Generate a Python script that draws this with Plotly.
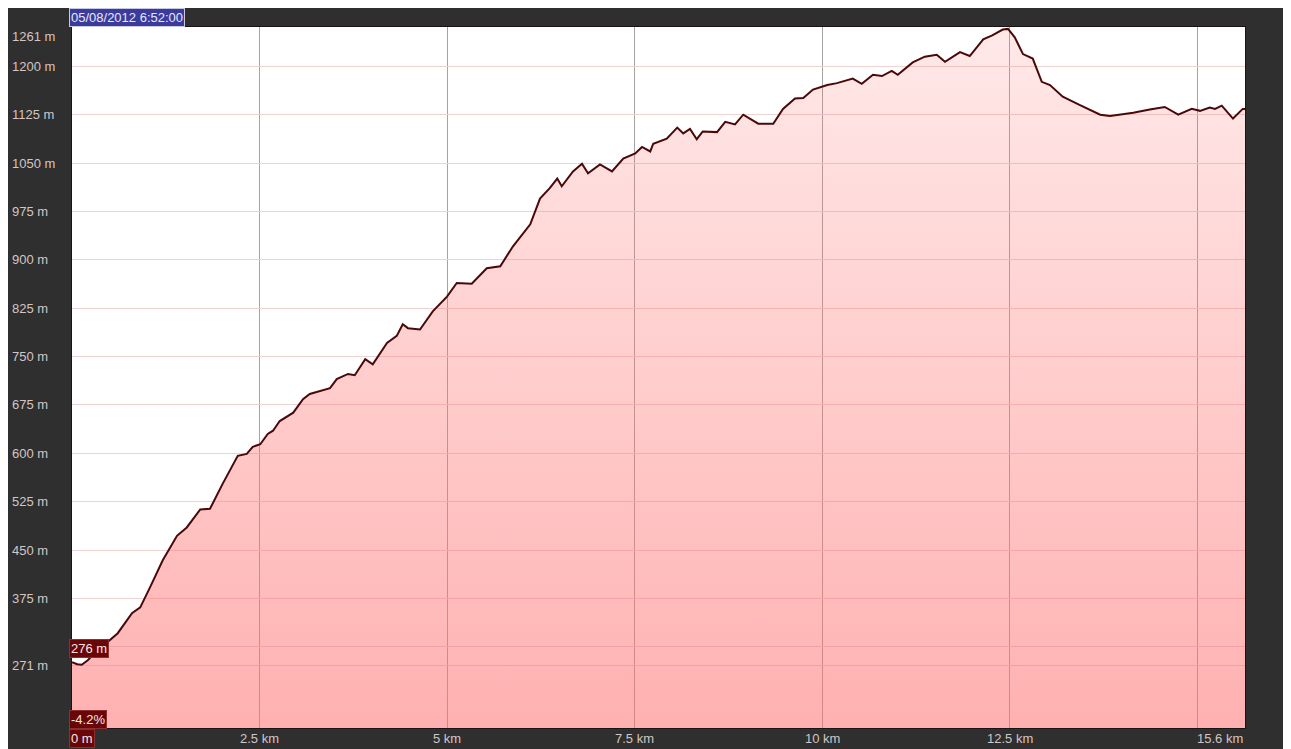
import plotly.graph_objects as go

# ---- data ----
distance_km = [0.00, 0.07, 0.13, 0.21, 0.32, 0.43, 0.51, 0.61, 0.80, 0.91, 1.04, 1.21, 1.40, 1.53,
               1.71, 1.84, 2.01, 2.21, 2.33, 2.41, 2.51, 2.61, 2.68, 2.77, 2.95, 3.08, 3.17, 3.31,
               3.44, 3.53, 3.68, 3.77, 3.91, 4.01, 4.20, 4.33, 4.41, 4.48, 4.64, 4.81, 5.00, 5.13,
               5.33, 5.53, 5.71, 5.88, 6.11, 6.24, 6.37, 6.47, 6.53, 6.68, 6.80, 6.88, 7.04, 7.20,
               7.35, 7.51, 7.60, 7.71, 7.75, 7.93, 8.07, 8.15, 8.24, 8.33, 8.41, 8.60, 8.71, 8.84,
               8.95, 9.15, 9.35, 9.48, 9.64, 9.75, 9.88, 10.07, 10.20, 10.41, 10.53, 10.68, 10.80,
               10.93, 11.01, 11.21, 11.37, 11.53, 11.64, 11.84, 11.97, 12.15, 12.27, 12.41, 12.48,
               12.57, 12.68, 12.81, 12.93, 13.04, 13.21, 13.44, 13.71, 13.84, 14.15, 14.37, 14.57,
               14.75, 14.93, 15.04, 15.17, 15.24, 15.33, 15.48, 15.61, 15.64]
elevation_m = [276, 273, 272, 279, 292, 303, 310, 321, 352, 361, 392, 434, 472, 485,
               513, 514, 553, 596, 599, 610, 614, 630, 635, 650, 663, 684, 692, 697,
               701, 715, 723, 721, 746, 738, 771, 782, 800, 794, 792, 820, 843, 864,
               863, 887, 890, 921, 955, 995, 1011, 1026, 1014, 1037, 1049, 1034, 1048, 1037,
               1057, 1065, 1075, 1068, 1080, 1088, 1105, 1096, 1103, 1087, 1099, 1098, 1114, 1110,
               1125, 1111, 1111, 1134, 1150, 1151, 1164, 1171, 1174, 1181, 1173, 1187, 1185,
               1193, 1187, 1206, 1215, 1218, 1207, 1222, 1216, 1242, 1248, 1257, 1258,
               1245, 1219, 1212, 1176, 1171, 1153, 1140, 1125, 1123, 1128, 1133, 1137,
               1125, 1134, 1131, 1136, 1134, 1139, 1119, 1134, 1134]

y_tick_values = [271, 375, 450, 525, 600, 675, 750, 825, 900, 975, 1050, 1125, 1200, 1261]
y_grid_values = [271, 300, 375, 450, 525, 600, 675, 750, 825, 900, 975, 1050, 1125, 1200]
x_tick_values = [2.5, 5, 7.5, 10, 12.5]
x_tick_labels = ["2.5 km", "5 km", "7.5 km", "10 km", "12.5 km"]
x_grid_values = [2.5, 5, 7.5, 10, 12.5, 15]
total_label = "15.6 km"
title_text = "05/08/2012 6:52:00"
cursor_elev = "276 m"
cursor_grade = "-4.2%"
cursor_dist = "0 m"

Y_MIN, Y_MAX = 174, 1261
X_MAX = 15.64

FONT = "Liberation Sans, Arial, sans-serif"
LABEL_COLOR = "#d2c6c6"
FS = 13

fig = go.Figure()
fig.add_trace(go.Scatter(
    x=distance_km, y=elevation_m, mode="lines",
    line=dict(color="#4a0808", width=2),
    fill="tozeroy",
    fillgradient=dict(type="vertical",
                      colorscale=[[0, "rgba(255,110,110,0.54)"], [1, "rgba(255,110,110,0.15)"]],
                      start=Y_MIN, stop=Y_MAX),
    hoverinfo="skip", showlegend=False,
))

annotations = []
# y-axis labels, left aligned in the dark margin
for v in y_tick_values:
    annotations.append(dict(
        text=f"{v} m", xref="paper", yref="y", x=-0.0525, y=v, xanchor="left", yanchor="middle",
        yshift=-9 if v == Y_MAX else 0, showarrow=False,
        font=dict(family=FONT, size=FS, color=LABEL_COLOR)))
# x-axis labels
for v, t in zip(x_tick_values, x_tick_labels):
    annotations.append(dict(
        text=t, xref="x", yref="paper", x=v, y=-0.0143, xanchor="center", yanchor="middle",
        showarrow=False, font=dict(family=FONT, size=FS, color=LABEL_COLOR)))
annotations.append(dict(
    text=total_label, xref="paper", yref="paper", x=1.0, y=-0.0143, xanchor="right", yanchor="middle",
    showarrow=False, font=dict(family=FONT, size=FS, color=LABEL_COLOR)))
# title / date box
annotations.append(dict(
    text=title_text, xref="paper", yref="paper", x=-0.0026, y=1.0136, xanchor="left", yanchor="middle",
    showarrow=False, bgcolor="#3b3b9e", bordercolor="#c8c8e0", borderwidth=1, borderpad=1,
    font=dict(family=FONT, size=FS, color="#e8e8f4")))
# cursor boxes
for txt, yp in [(cursor_elev, 0.1134), (cursor_grade, 0.0121), (cursor_dist, -0.0143)]:
    annotations.append(dict(
        text=txt, xref="paper", yref="paper", x=-0.0026, y=yp, xanchor="left", yanchor="middle",
        showarrow=False, bgcolor="#6a0606", bordercolor="#8a3030", borderwidth=1, borderpad=1,
        font=dict(family=FONT, size=FS, color="#f4e6e6")))

fig.update_layout(
    width=1283, height=741,
    margin=dict(l=64, r=46, t=19, b=21),
    paper_bgcolor="#2f2f2f", plot_bgcolor="#ffffff",
    annotations=annotations,
    xaxis=dict(range=[0, X_MAX], tickvals=x_grid_values, showticklabels=False, ticks="",
               showgrid=True, gridcolor="#a9a2a2", gridwidth=1, zeroline=False,
               showline=True, linecolor="#1c1414", linewidth=1, mirror=True, fixedrange=True),
    yaxis=dict(range=[Y_MIN, Y_MAX], tickvals=y_grid_values, showticklabels=False, ticks="",
               showgrid=True, gridcolor="#eed3d3", gridwidth=1, zeroline=False,
               showline=True, linecolor="#1c1414", linewidth=1, mirror=True, fixedrange=True),
    showlegend=False,
)

fig.write_html("out.html")
